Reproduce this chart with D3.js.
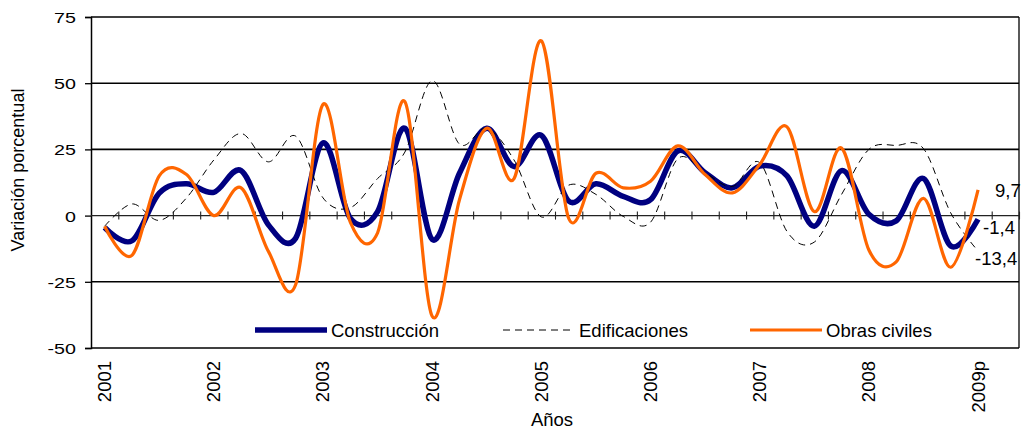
<!DOCTYPE html>
<html>
<head>
<meta charset="utf-8">
<script src="https://cdn.jsdelivr.net/npm/d3@7"></script>
<style>
  body { margin: 0; background: #fff; }
  text { font-family: "Liberation Sans", Arial, sans-serif; fill: #000; }
</style>
</head>
<body>
<div id="chart"></div>
<script>
// Data: quarterly annual variation (%), 2001-I to 2009-I
const years = ["2001", "2002", "2003", "2004", "2005", "2006", "2007", "2008", "2009p"];
const quarters = ["I", "II", "III", "IV"];

const construccion = [-4.5, -9.5, 8.5, 12, 8.8, 17, -3.5, -8.5, 27.5, -1, 1.5, 33,
  -9, 16, 33, 18.5, 30.3, 5.5, 12, 7.3, 6, 24.4, 16.2, 10.5, 18.7, 15, -4, 17,
  0.5, -2, 14, -11.5, -1.4];
const edificaciones = [-4, 4.4, -1.8, 6.7, 21, 31, 20.3, 30, 6.7, 3, 14, 24,
  51, 27, 33, 21, -0.5, 11.5, 8, -0.3, -2.5, 21.5, 16.2, 11, 20, -6, -10, 8,
  25, 26.5, 25.3, 1, -13.4];
const obrasCiviles = [-4, -15, 15, 15.5, 0, 10.5, -13.5, -26, 42, -2.5, -6.5, 43,
  -38, 6, 33, 14, 66, -1, 16, 10.5, 13, 26.3, 15.5, 8.6, 19.3, 33.5, 1.5, 25.5,
  -13, -17.5, 6.5, -19.5, 9.7];

const yTicks = [-50, -25, 0, 25, 50, 75];

// categories: every quarter, plus one empty slot after the last one
const periods = [];
years.forEach(y => quarters.forEach(q => periods.push(y + "-" + q)));
const categories = periods.slice(0, 34);

// Layout
const width = 1026;
const height = 431;
const plot = { left: 91, right: 1019, top: 17, bottom: 348 };

const locale = d3.formatLocale({ decimal: ",", thousands: ".", grouping: [3], currency: ["", ""], minus: "-" });

const svg = d3.select("#chart")
    .append("svg")
    .attr("width", width)
    .attr("height", height);

svg.append("rect").attr("width", width).attr("height", height).attr("fill", "#fff");

// Scales
const x = d3.scaleBand()
    .domain(categories)
    .range([plot.left, plot.right])
    .padding(0);
const xBound = d3.scaleLinear()
    .domain([0, categories.length])
    .range([plot.left, plot.right]);
const y = d3.scaleLinear()
    .domain([-50, 75])
    .range([plot.bottom, plot.top]);

const cx = i => x(categories[i]) + x.bandwidth() / 2;

// Gridlines
svg.append("g")
    .selectAll("line")
    .data(yTicks.filter(d => d !== 0))
    .enter()
    .append("line")
    .attr("x1", plot.left)
    .attr("x2", plot.right)
    .attr("y1", d => y(d))
    .attr("y2", d => y(d))
    .attr("stroke", "#000")
    .attr("stroke-width", 1.6);

// right border
svg.append("line")
    .attr("x1", plot.right).attr("x2", plot.right)
    .attr("y1", plot.top).attr("y2", plot.bottom)
    .attr("stroke", "#000").attr("stroke-width", 1.3);

// Y axis
const yAxis = svg.append("g")
    .attr("transform", `translate(${plot.left},0)`)
    .call(d3.axisLeft(y).tickValues(yTicks).tickSize(6).tickFormat(locale.format("d")));
yAxis.select(".domain").attr("stroke", "#000").attr("stroke-width", 1.5);
yAxis.selectAll(".tick line").attr("stroke", "#000").attr("stroke-width", 1.3);
yAxis.selectAll(".tick text")
    .attr("x", 0)
    .attr("font-size", 15.5)
    .attr("font-family", "'Liberation Sans', Arial, sans-serif")
    .attr("fill", "#000")
    .attr("transform", "translate(-15,0) scale(1.27,1)")
    .attr("dy", "0.35em");

// X axis: line at zero with crossing tick marks on quarter boundaries
svg.append("line")
    .attr("x1", plot.left).attr("x2", plot.right)
    .attr("y1", y(0)).attr("y2", y(0))
    .attr("stroke", "#222").attr("stroke-width", 1.1);

const xAxis = svg.append("g")
    .attr("transform", `translate(0,${y(0) - 4})`)
    .call(d3.axisBottom(xBound)
        .tickValues(d3.range(1, categories.length + 1))
        .tickSize(8)
        .tickFormat(""));
xAxis.select(".domain").remove();
xAxis.selectAll(".tick line").attr("stroke", "#222").attr("stroke-width", 1.1);

// Year labels (rotated) under the plot
svg.append("g")
    .selectAll("text")
    .data(categories.filter(c => c.endsWith("-I")))
    .enter()
    .append("text")
    .attr("transform", d => `translate(${x(d) + x.bandwidth() / 2},361) rotate(-90)`)
    .attr("dy", "0.35em")
    .attr("text-anchor", "end")
    .attr("font-size", 18.5)
    .text(d => d.split("-")[0]);

// Axis titles
svg.append("text")
    .attr("transform", "translate(24,170) rotate(-90)")
    .attr("text-anchor", "middle")
    .attr("font-size", 18)
    .text("Variación porcentual");

svg.append("text")
    .attr("x", 552)
    .attr("y", 426)
    .attr("text-anchor", "middle")
    .attr("font-size", 18.5)
    .text("Años");

// Series
const series = [
    { name: "Construcción", values: construccion, color: "#000080", width: 5.5, dash: null, lx: 255, ldx: 5, ldy: 15 },
    { name: "Edificaciones", values: edificaciones, color: "#000", width: 1, dash: "7,5", lx: 503, ldx: -3, ldy: 13.5 },
    { name: "Obras civiles", values: obrasCiviles, color: "#FF6600", width: 3.2, dash: null, lx: 750, ldx: 17, ldy: 6.7 }
];

const line = d3.line()
    .x((d, i) => cx(i))
    .y(d => y(d))
    .curve(d3.curveCardinal.tension(0));

svg.append("g")
    .selectAll("path")
    .data(series)
    .enter()
    .append("path")
    .attr("d", d => line(d.values))
    .attr("fill", "none")
    .attr("stroke", d => d.color)
    .attr("stroke-width", d => d.width)
    .attr("stroke-dasharray", d => d.dash)
    .attr("stroke-linejoin", "round");

// End value labels
const fmt = locale.format(".1f");
svg.append("g")
    .selectAll("text")
    .data(series)
    .enter()
    .append("text")
    .attr("x", d => cx(d.values.length - 1) + d.ldx)
    .attr("y", d => y(d.values[d.values.length - 1]) + d.ldy)
    .attr("font-size", 18.5)
    .text(d => fmt(d.values[d.values.length - 1]));

// Legend
const legend = svg.append("g");
const items = legend.selectAll("g")
    .data(series)
    .enter()
    .append("g")
    .attr("transform", d => `translate(${d.lx},330)`);
items.append("line")
    .attr("x1", 0).attr("x2", 72)
    .attr("stroke", d => d.color)
    .attr("stroke-width", d => d.width)
    .attr("stroke-dasharray", d => d.dash);
items.append("text")
    .attr("x", 76)
    .attr("y", 7)
    .attr("font-size", 18.5)
    .text(d => d.name);
</script>
</body>
</html>
